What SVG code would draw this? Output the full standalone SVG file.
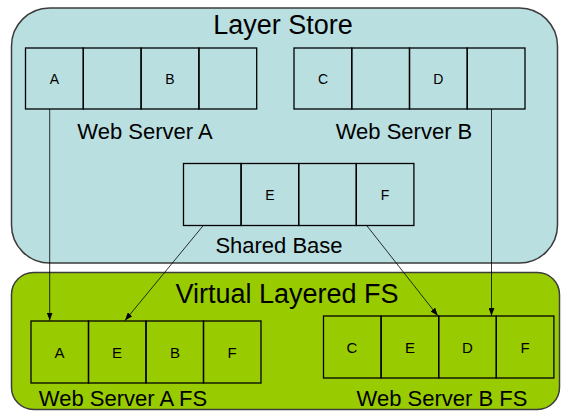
<svg xmlns="http://www.w3.org/2000/svg" width="562" height="411" viewBox="0 0 562 411">
<defs>
<marker id="arr" viewBox="0 0 8 6" refX="8" refY="3" markerWidth="8" markerHeight="6" markerUnits="userSpaceOnUse" orient="auto">
<path d="M0,0 L8,3 L0,6 z" fill="#000"/>
</marker>
<style>
text{font-family:"Liberation Sans",Arial,sans-serif;fill:#000;text-anchor:middle}
.big{font-size:27px}
.mid{font-size:22px}
.lab{font-size:14px}
.lab2{font-size:15px}
.cell{fill:none;stroke:#000;stroke-width:1.3}
.conn{stroke:#000;stroke-width:0.8;fill:none;marker-end:url(#arr)}
</style>
</defs>
<g id="layer-store">
<rect x="11.5" y="8" width="546" height="255" rx="38" ry="38" fill="#b9dfe1" stroke="#3c3c3c" stroke-width="1.5"/>
<text class="big" x="283" y="34">Layer Store</text>
</g>
<g id="virtual-fs">
<rect x="11.5" y="272.5" width="548" height="137" rx="22" ry="22" fill="#99cc00" stroke="#3c3c3c" stroke-width="1.5"/>
<text class="big" x="287" y="303">Virtual Layered FS</text>
</g>
<g id="web-server-a">
<rect class="cell" x="25.5" y="48" width="57.8" height="61"/>
<rect class="cell" x="83.3" y="48" width="57.8" height="61"/>
<rect class="cell" x="141.1" y="48" width="57.8" height="61"/>
<rect class="cell" x="198.9" y="48" width="57.8" height="61"/>
<text class="lab" x="54.4" y="84">A</text>
<text class="lab" x="170" y="84">B</text>
<text class="mid" x="145" y="139">Web Server A</text>
</g>
<g id="web-server-b">
<rect class="cell" x="294" y="48" width="57.75" height="61"/>
<rect class="cell" x="351.75" y="48" width="57.75" height="61"/>
<rect class="cell" x="409.5" y="48" width="57.75" height="61"/>
<rect class="cell" x="467.25" y="48" width="57.75" height="61"/>
<text class="lab" x="323" y="84">C</text>
<text class="lab" x="438.4" y="84">D</text>
<text class="mid" x="404" y="139">Web Server B</text>
</g>
<g id="shared-base">
<rect class="cell" x="183.5" y="163.5" width="57.6" height="62"/>
<rect class="cell" x="241.1" y="163.5" width="57.6" height="62"/>
<rect class="cell" x="298.7" y="163.5" width="57.6" height="62"/>
<rect class="cell" x="356.3" y="163.5" width="57.6" height="62"/>
<text class="lab" x="270" y="200">E</text>
<text class="lab" x="385" y="200">F</text>
<text class="mid" x="279" y="253">Shared Base</text>
</g>
<g id="web-server-a-fs">
<rect class="cell" x="31" y="321" width="57.5" height="62"/>
<rect class="cell" x="88.5" y="321" width="57.5" height="62"/>
<rect class="cell" x="146" y="321" width="57.5" height="62"/>
<rect class="cell" x="203.5" y="321" width="57.5" height="62"/>
<text class="lab2" x="59.5" y="357.5">A</text>
<text class="lab2" x="117" y="357.5">E</text>
<text class="lab2" x="175" y="357.5">B</text>
<text class="lab2" x="232" y="357.5">F</text>
<text class="mid" x="123" y="406">Web Server A FS</text>
</g>
<g id="web-server-b-fs">
<rect class="cell" x="323.5" y="316" width="57.6" height="62"/>
<rect class="cell" x="381.1" y="316" width="57.6" height="62"/>
<rect class="cell" x="438.7" y="316" width="57.6" height="62"/>
<rect class="cell" x="496.3" y="316" width="57.6" height="62"/>
<text class="lab2" x="352" y="352.5">C</text>
<text class="lab2" x="410" y="352.5">E</text>
<text class="lab2" x="467.5" y="352.5">D</text>
<text class="lab2" x="525" y="352.5">F</text>
<text class="mid" x="442" y="406">Web Server B FS</text>
</g>
<g id="connectors">
<line class="conn" x1="49.7" y1="109" x2="49.7" y2="320.5"/>
<line class="conn" x1="491.5" y1="109" x2="491.5" y2="315.8"/>
<line class="conn" x1="203.3" y1="225.5" x2="125" y2="320.5"/>
<line class="conn" x1="366.7" y1="225.5" x2="437.8" y2="315.8"/>
</g>
</svg>
